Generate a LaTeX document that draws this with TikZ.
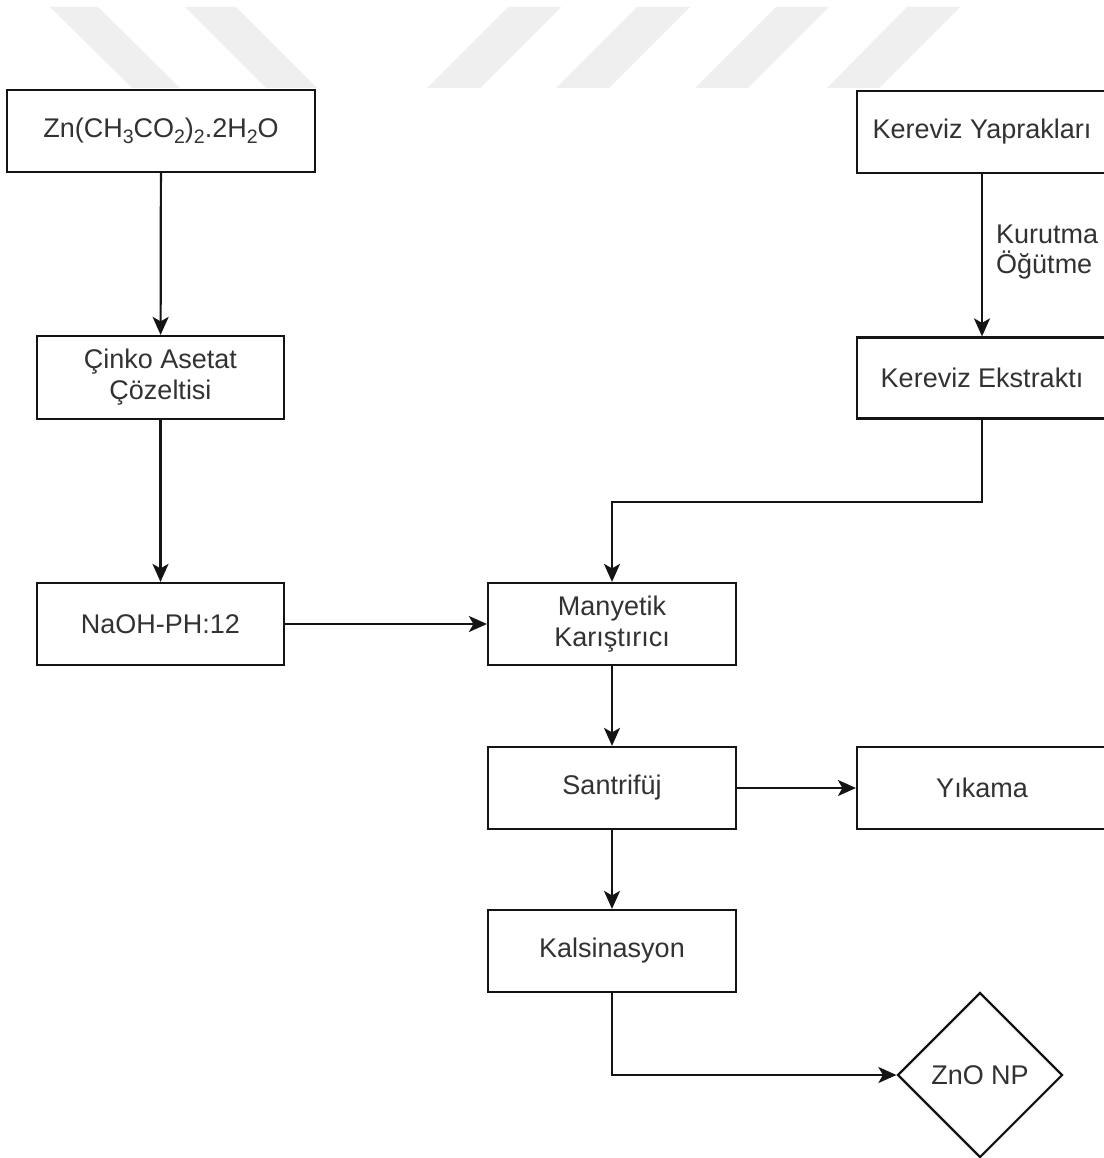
\documentclass[tikz,border=0pt]{standalone}
\usepackage{fontspec}
\setmainfont{Liberation Sans}
\usetikzlibrary{shapes.geometric,arrows.meta}
\definecolor{wm}{RGB}{239,239,239}
\definecolor{txt}{RGB}{50,50,50}
\definecolor{ln}{RGB}{20,20,20}
\newcommand\lsub[1]{\raisebox{-6.5pt}{\fontsize{19.5}{19.5}\selectfont #1}}
\begin{document}
\begin{tikzpicture}[x=1pt,y=-1pt,
  box/.style={draw=ln,line width=2.2pt,rectangle,minimum width=248pt,minimum height=82pt,inner sep=0pt,
    text=txt,font=\fontsize{27}{31}\selectfont,align=center},
  conn/.style={draw=ln,line width=2.2pt,-{Stealth[length=18pt,width=16pt,inset=4.5pt]}},
  wmark/.style={fill=wm,draw=none}]
\useasboundingbox (0,0) rectangle (1103,1158);
\fill[white] (0,0) rectangle (1103,1158);
% watermark stripes
\fill[wmark] (50,7) -- (98,7) -- (180,88) -- (132,88) -- cycle;
\fill[wmark] (185,7) -- (236,7) -- (317,88) -- (266,88) -- cycle;
\fill[wmark] (508,7) -- (561,7) -- (480,88) -- (427,88) -- cycle;
\fill[wmark] (637,7) -- (690,7) -- (609,88) -- (556,88) -- cycle;
\fill[wmark] (776,7) -- (829,7) -- (748,88) -- (695,88) -- cycle;
\fill[wmark] (907,7) -- (960,7) -- (879,88) -- (827,88) -- cycle;
% nodes
\node[box,minimum width=308pt] (zn) at (161,131)
  {Zn(CH\lsub{3}CO\lsub{2})\lsub{2}.2H\lsub{2}O};
\node[box,minimum width=247pt,minimum height=83pt] (cinko) at (160.5,377.5)
  {Çinko Asetat\\Çözeltisi};
\node[box,minimum width=247pt] (naoh) at (160.5,624) {NaOH-PH:12};
\node[box,minimum width=250pt] (kyap) at (982,132) {Kereviz Yaprakları};
\node[box,minimum width=250pt,minimum height=81pt] (kext) at (982,378) {Kereviz Ekstraktı};
\node[box] (many) at (612,624) {Manyetik\\Karıştırıcı};
\node[box] (sant) at (612,788) {Santrifüj};
\node[box,minimum width=250pt] (yik) at (982,788) {Yıkama};
\node[box] (kal) at (612,951) {Kalsinasyon};
\node[draw=ln,line width=2.2pt,diamond,minimum width=165pt,minimum height=165pt,inner sep=0pt,
  text=txt,font=\fontsize{27}{31}\selectfont] (zno) at (980,1075) {ZnO NP};
\node[anchor=west,align=left,inner sep=0pt,text=txt,font=\fontsize{27}{30}\selectfont] (lab) at (996,252)
  {Kurutma\\Öğütme};
\coordinate (bend) at (982,502);
% connectors
\draw[conn] (zn) -- (cinko);
\draw[conn] (cinko) -- (naoh);
\draw[conn] (kyap) -- (kext);
\draw[conn] (kext.south) -- (bend) -| (many.north);
\draw[conn] (naoh) -- (many);
\draw[conn] (many) -- (sant);
\draw[conn] (sant) -- (yik);
\draw[conn] (sant) -- (kal);
\draw[conn] (kal.south) |- (zno.west);
\end{tikzpicture}
\end{document}
